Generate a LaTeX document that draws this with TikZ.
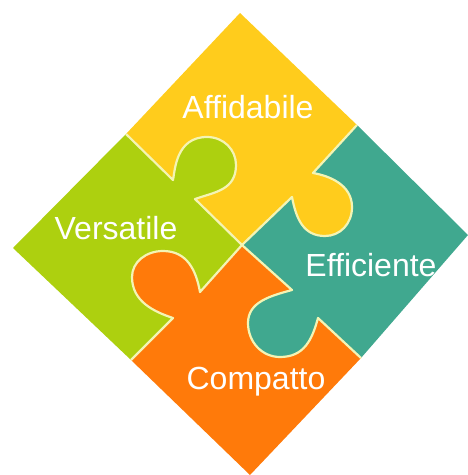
\documentclass[tikz,border=0pt]{standalone}
\usepackage{fontspec}
\setmainfont{Liberation Sans}
\definecolor{pyellow}{HTML}{FFCC1C}
\definecolor{pgreen}{HTML}{ADD00F}
\definecolor{pteal}{HTML}{40A88F}
\definecolor{porange}{HTML}{FF7A0A}
\definecolor{seam}{HTML}{F4F4B4}
\def\edgeA{-- (173,180) .. controls (175,170) and (176,137) .. (207,137) .. controls (224,137) and (236,150) .. (236,165) .. controls (236,190) and (215,192) .. (195,199) -- (242,245)}
\def\edgeArev{-- (195,199) .. controls (215,192) and (236,190) .. (236,165) .. controls (236,150) and (224,137) .. (207,137) .. controls (176,137) and (175,170) .. (173,180) -- (126,134)}
\def\edgeB{-- (313,173) .. controls (330,176) and (352,185) .. (352,207) .. controls (352,224) and (340,236) .. (325,236) .. controls (303,236) and (296,218) .. (292,197) -- (242,245)}
\def\edgeBrev{-- (292,197) .. controls (296,218) and (303,236) .. (325,236) .. controls (340,236) and (352,224) .. (352,207) .. controls (352,185) and (330,176) .. (313,173) -- (357,125)}
\def\edgeC{-- (292,290) .. controls (270,296) and (248,302) .. (248,323) .. controls (248,342) and (262,357) .. (280,357) .. controls (304,357) and (312,340) .. (318,318) -- (361,358)}
\def\edgeCrev{-- (318,318) .. controls (312,340) and (304,357) .. (280,357) .. controls (262,357) and (248,342) .. (248,323) .. controls (248,302) and (270,296) .. (292,290) -- (242,245)}
\def\edgeD{-- (200,292) .. controls (196,270) and (187,251) .. (163,251) .. controls (146,251) and (132,262) .. (132,277) .. controls (132,302) and (155,312) .. (173,318) -- (131,360)}
\def\edgeDrev{-- (173,318) .. controls (155,312) and (132,302) .. (132,277) .. controls (132,262) and (146,251) .. (163,251) .. controls (187,251) and (196,270) .. (200,292) -- (242,245)}
\tikzset{
  seamline/.style={draw=seam,line width=2.2pt,line join=round},
  label/.style={text=white,anchor=base,inner sep=0pt,font=\fontsize{32}{36}\selectfont}
}
\begin{document}
\begin{tikzpicture}[x=1pt,y=-1pt]
\useasboundingbox (0,0) rectangle (468,475);
\clip (0,0) rectangle (468,475);
\fill[pyellow] (240,13) -- (357,125) \edgeB \edgeArev -- cycle;
\fill[pteal] (468,235) -- (361,358) \edgeCrev \edgeBrev -- cycle;
\fill[porange] (250,475) -- (131,360) \edgeDrev \edgeC -- cycle;
\fill[pgreen] (13,248) -- (126,134) \edgeA \edgeD -- cycle;
\path[seamline] (126,134) \edgeA;
\path[seamline] (357,125) \edgeB;
\path[seamline] (242,245) \edgeC;
\path[seamline] (242,245) \edgeD;
\node[label] (aff) at (248,118) {Affidabile};
\node[label] (ver) at (116,239) {Versatile};
\node[label] (eff) at (371,276) {Efficiente};
\node[label] (com) at (256,389) {Compatto};
\end{tikzpicture}
\end{document}
